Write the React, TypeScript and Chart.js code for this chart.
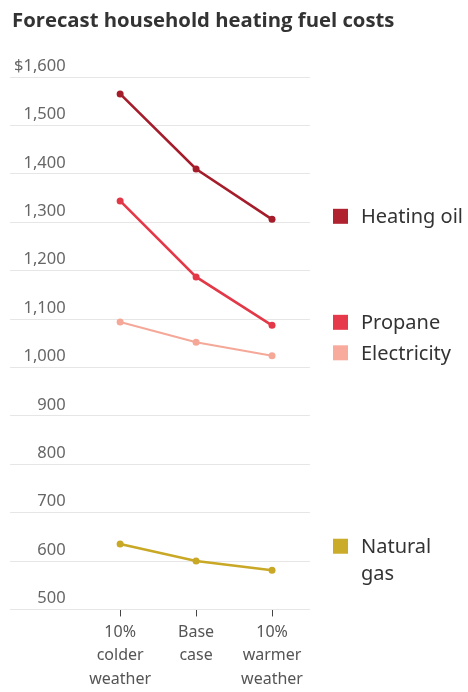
import React, { useEffect, useRef } from "react";
import { Chart, registerables } from "chart.js";

Chart.register(...registerables);

const title = "Forecast household heating fuel costs";
const scenarios: string[][] = [
  ["10%", "colder", "weather"],
  ["Base", "case"],
  ["10%", "warmer", "weather"],
];
const seriesNames: string[][] = [["Heating oil"], ["Propane"], ["Electricity"], ["Natural", "gas"]];
const heatingOil = [1565, 1410, 1306];
const propane = [1344, 1187, 1087];
const electricity = [1094, 1052, 1024];
const naturalGas = [635, 600, 581];
const yTicks = [500, 600, 700, 800, 900, 1000, 1100, 1200, 1300, 1400, 1500, 1600];

const lineColors = ["#a51d2b", "#e33847", "#f5a898", "#c9a826"];
const swatchColors = ["#b0222f", "#e63a4a", "#f8ab9c", "#cbab2a"];

const FONT = "'Noto Sans', 'DejaVu Sans', sans-serif";
const TITLE_FONT = "'Open Sans', 'Noto Sans', sans-serif";

const legendPlugin = {
  id: "sideLegend",
  afterDraw(chart: any) {
    const ctx = chart.ctx;
    const y = chart.scales.y;
    const x0 = chart.chartArea.right + 23;
    ctx.save();
    ctx.fillStyle = "#333";
    ctx.font = `bold 20.3px ${TITLE_FONT}`;
    ctx.textBaseline = "alphabetic";
    ctx.textAlign = "left";
    ctx.fillText(title, 12, 27);
    ctx.font = `20px ${FONT}`;
    ctx.textBaseline = "middle";
    chart.data.datasets.forEach((ds: any, i: number) => {
      const last = ds.data[ds.data.length - 1].y;
      const lines = seriesNames[i];
      const lh = 27;
      const center = y.getPixelForValue(last) - 3 - (lines.length - 1) * 7.5;
      const top = center - ((lines.length - 1) * lh) / 2;
      ctx.fillStyle = swatchColors[i];
      ctx.fillRect(x0, top - 7.5, 15, 15);
      ctx.fillStyle = "#333";
      lines.forEach((t, k) => ctx.fillText(t, x0 + 28, top + k * lh + 1));
    });
    ctx.restore();
  },
};

export default function App() {
  const ref = useRef<HTMLCanvasElement>(null);
  useEffect(() => {
    if (!ref.current) return;
    const all = [heatingOil, propane, electricity, naturalGas];
    const chart = new Chart(ref.current, {
      type: "line",
      data: {
        datasets: all.map((arr, i) => ({
          label: seriesNames[i].join(" "),
          data: arr.map((v, k) => ({ x: k, y: v })),
          borderColor: lineColors[i],
          backgroundColor: lineColors[i],
          borderWidth: i === 2 ? 2 : 2.6,
          pointRadius: 3.5,
          pointBackgroundColor: lineColors[i],
          pointBorderWidth: 0,
          tension: 0,
        })),
      },
      options: {
        animation: false,
        responsive: true,
        maintainAspectRatio: false,
        layout: { padding: { left: 2, right: 158, top: 77, bottom: -3 } },
        plugins: {
          legend: { display: false },
          tooltip: { enabled: false },
          title: { display: false },
        },
        scales: {
          x: {
            type: "linear",
            min: -1.45,
            max: 2.5,
            afterBuildTicks: (s: any) => {
              s.ticks = scenarios.map((_, i) => ({ value: i }));
            },
            ticks: {
              callback: (v: any) => scenarios[v] ?? "",
              color: "#555",
              font: { family: FONT, size: 16, lineHeight: 1.47 },
              padding: 4,
              maxRotation: 0,
              autoSkip: false,
            },
            grid: { drawOnChartArea: false, drawTicks: true, tickLength: 7, color: "#444", lineWidth: 1 },
            border: { display: false },
          },
          y: {
            min: 500,
            max: 1600,
            afterBuildTicks: (s: any) => {
              s.ticks = yTicks.map((v) => ({ value: v }));
            },
            ticks: {
              mirror: true,
              crossAlign: "far",
              padding: 4,
              labelOffset: -11,
              color: "#666",
              font: { family: FONT, size: 16.5 },
              callback: (v: any) => (v === 1600 ? "$1,600" : Number(v).toLocaleString("en-US")),
            },
            grid: { color: "#e6e6e6", drawTicks: false, tickLength: 0 },
            border: { display: false },
          },
        },
      },
      plugins: [legendPlugin],
    });
    return () => chart.destroy();
  }, []);
  return (
    <div style={{ position: "fixed", left: 0, top: 0, width: 468, height: 692, background: "#fff" }}>
      <canvas ref={ref} />
    </div>
  );
}
